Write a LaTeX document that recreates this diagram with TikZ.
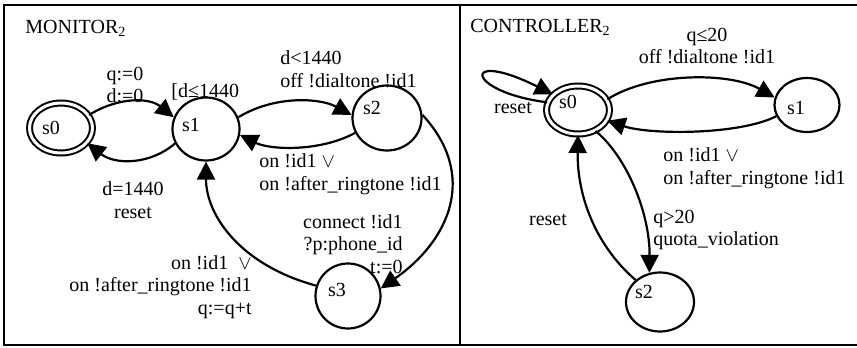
\documentclass[tikz,border=0pt]{standalone}
\usepackage{fontspec}
\setmainfont{Liberation Serif}
\usetikzlibrary{arrows.meta,shapes.geometric}
\begin{document}
\begin{tikzpicture}[x=0.5pt,y=-0.5pt,
  every node/.style={font=\fontsize{10}{11.25}\selectfont, inner sep=0pt},
  state/.style={draw, ellipse, line width=1.1pt},
  accept/.style={draw, ellipse, line width=1pt, double, double distance=1.5pt},
  stname/.style={},
  tr/.style={line width=1.1pt, -{Triangle[length=9pt,width=9pt]}},
  lbl/.style={align=center},
  lbll/.style={align=left, anchor=west},
  lblr/.style={align=right, anchor=east},
  frame/.style={line width=1.2pt},
]
\useasboundingbox (0,0) rectangle (857,348);
\draw[frame] (857,5) -- (4,5) -- (4,345) -- (857,345);
\draw[frame] (460,5) -- (460,345);

% titles
\node[anchor=west] (t1) at (25,28) {MONITOR\textsubscript{2}};
\node[anchor=west] (t2) at (470,27) {CONTROLLER\textsubscript{2}};

% MONITOR states
\node[accept, minimum width=31.5pt, minimum height=25pt] (m0) at (61,128) {};
\node[state, minimum width=33.5pt, minimum height=31.5pt] (m1) at (206,129) {};
\node[state, minimum width=34.5pt, minimum height=32.5pt] (m2) at (387,118) {};
\node[state, minimum width=32.5pt, minimum height=32.5pt] (m3) at (348,296) {};
\node[stname] (m0n) at ([shift={(-10,0)}]m0.center) {s0};
\node[stname] (m1n) at ([shift={(-15,-4)}]m1.center) {s1};
\node[stname] (m2n) at ([shift={(-15,-10)}]m2.center) {s2};
\node[stname] (m3n) at ([shift={(-11,-6)}]m3.center) {s3};

% CONTROLLER states
\node[accept, minimum width=31.5pt, minimum height=24pt] (c0) at (578,110) {};
\node[state, minimum width=32.5pt, minimum height=27pt] (c1) at (807,105) {};
\node[state, minimum width=34pt, minimum height=29.5pt] (c2) at (660,302) {};
\node[stname] (c0n) at ([shift={(-10,-8)}]c0.center) {s0};
\node[stname] (c1n) at ([shift={(-11,3)}]c1.center) {s1};
\node[stname] (c2n) at ([shift={(-16,-10)}]c2.center) {s2};

% MONITOR transitions
\draw[tr] (m0.25) .. controls (120,96) and (150,98) .. (m1.160);
\draw[tr] (m1.205) .. controls (150,165) and (115,165) .. (m0.-30);
\draw[tr] (m1.20) .. controls (275,95) and (320,98) .. (m2.175);
\draw[tr] (m2.205) .. controls (320,152) and (270,150) .. (m1.-10);
\draw[tr] (m2.5) .. controls (478,175) and (450,240) .. (m3.13);
\draw[tr] (m3.162) .. controls (240,265) and (206,215) .. (m1.south);

% MONITOR labels
\node[lbl] (l1) at (125,85) {q:=0\\d:=0};
\node[anchor=west] (l2) at (171,92) {[d≤1440};
\node[lbl] (l3) at (133,200) {d=1440\\reset};
\node[lbll] (l4) at (280,69) {d<1440\\off !dialtone !id1};
\node[lbll] (l5) at (259,174) {on !id1 $\vee$\\on !after\_ringtone !id1};
\node[lblr] (l6) at (403,244) {connect !id1\\?p:phone\_id\\t:=0};
\node[lblr] (l7) at (252,287) {on !id1~~$\vee$\\on !after\_ringtone !id1\\q:=q+t};

% CONTROLLER transitions
\draw[tr] (c0.166) .. controls (465,92) and (460,48) .. (c0.148);
\draw[tr] (c0.20) .. controls (650,72) and (730,72) .. (c1.167);
\draw[tr] (c1.200) .. controls (740,135) and (650,135) .. (c0.-20);
\draw[tr] (c0.-50) .. controls (628,158) and (650,215) .. (c2.110);
\draw[tr] (c2.138) .. controls (595,245) and (577,195) .. (c0.south);

% CONTROLLER labels
\node[lbl] (k1) at (707,46) {q≤20\\off !dialtone !id1};
\node (k2) at (513,108) {reset};
\node[lbll] (k3) at (663,168) {on !id1 $\vee$\\on !after\_ringtone !id1};
\node[lbll] (k4) at (653,230) {q>20\\quota\_violation};
\node (k5) at (548,220) {reset};
\end{tikzpicture}
\end{document}
